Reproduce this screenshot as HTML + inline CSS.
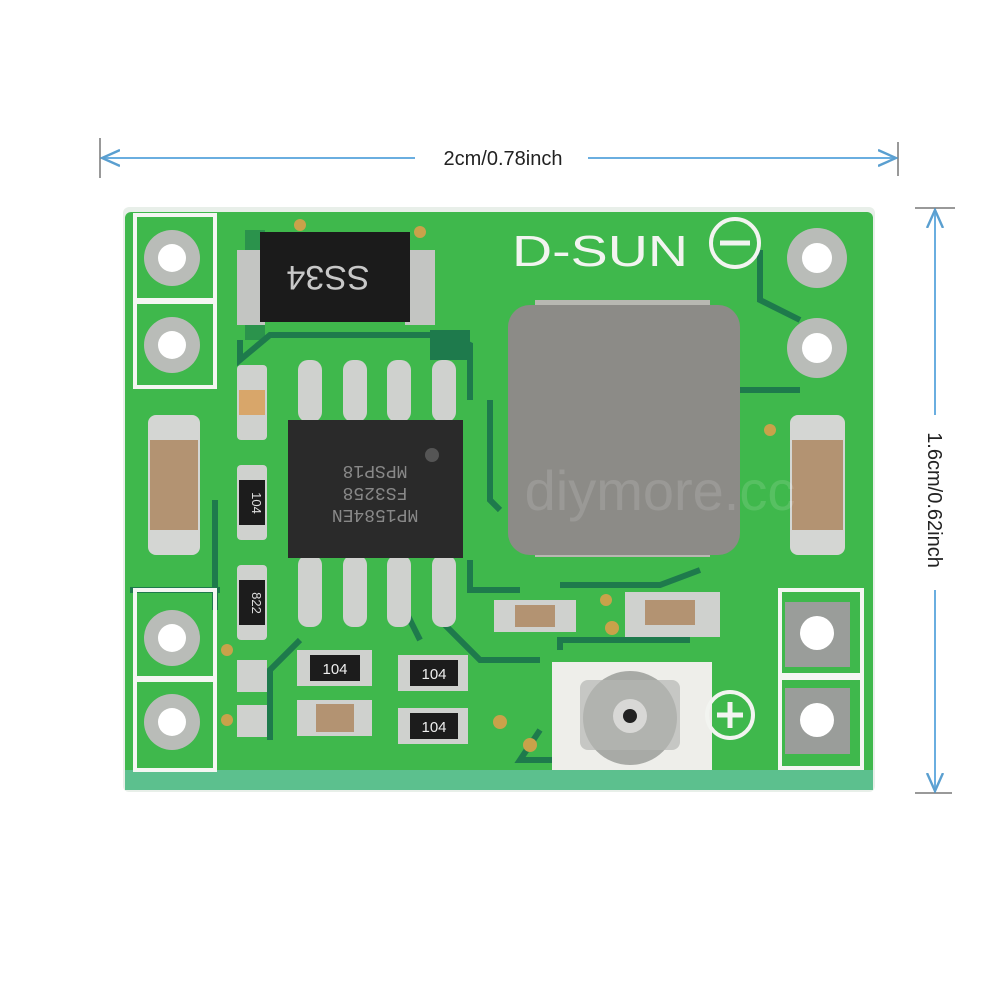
<!DOCTYPE html>
<html><head><meta charset="utf-8"><style>
html,body{margin:0;padding:0;background:#fff;}
svg{display:block;}
</style></head><body>
<svg width="1000" height="1000" viewBox="0 0 1000 1000" xmlns="http://www.w3.org/2000/svg">
<defs>
<marker id="ar" markerWidth="10" markerHeight="10" refX="9" refY="5" orient="auto"><path d="M0,1 L9,5 L0,9" fill="none" stroke="#5a9fd0" stroke-width="1.2"/></marker>
</defs>
<line x1="100" y1="138" x2="100" y2="178" stroke="#333" stroke-width="1"/>
<line x1="898" y1="142" x2="898" y2="176" stroke="#333" stroke-width="1"/>
<line x1="415" y1="158" x2="102" y2="158" stroke="#6aaee0" stroke-width="2" marker-end="url(#ar)"/>
<line x1="588" y1="158" x2="896" y2="158" stroke="#6aaee0" stroke-width="2" marker-end="url(#ar)"/>
<text x="503" y="165" font-family="Liberation Sans, sans-serif" font-size="20" text-anchor="middle" fill="#222">2cm/0.78inch</text>
<line x1="915" y1="208" x2="955" y2="208" stroke="#333" stroke-width="1"/>
<line x1="915" y1="793" x2="952" y2="793" stroke="#333" stroke-width="1"/>
<line x1="935" y1="415" x2="935" y2="210" stroke="#6aaee0" stroke-width="2" marker-end="url(#ar)"/>
<line x1="935" y1="590" x2="935" y2="791" stroke="#6aaee0" stroke-width="2" marker-end="url(#ar)"/>
<text x="0" y="0" transform="translate(928,500) rotate(90)" font-family="Liberation Sans, sans-serif" font-size="20" text-anchor="middle" fill="#222">1.6cm/0.62inch</text>

<rect x="123" y="207" width="752" height="585" rx="6" fill="#e8efe9"/>
<rect x="125" y="212" width="748" height="565" rx="6" fill="#3fb84c"/>
<rect x="125" y="770" width="748" height="20" fill="#5cc08e"/>
<g fill="none" stroke="#1e7a4c" stroke-width="6">
<path d="M240 340 L240 360 L270 335 L450 335 L470 345 L470 400"/>
<path d="M470 560 L470 590 L520 590"/>
<path d="M440 620 L480 660 L540 660"/>
<path d="M300 640 L270 670 L270 740"/>
<path d="M760 250 L760 300 L800 320"/>
<path d="M740 390 L800 390"/>
<path d="M560 585 L660 585 L700 570"/>
<path d="M560 650 L560 640 L690 640"/>
<path d="M490 400 L490 500 L500 510"/>
<path d="M400 600 L420 640"/>
<path d="M215 500 L215 610"/>
<path d="M130 590 L220 590"/>
<path d="M540 730 L520 760 L560 760"/>
</g>
<rect x="430" y="330" width="40" height="30" fill="#1e7a4c"/>
<rect x="245" y="230" width="20" height="110" fill="#1e7a4c" opacity="0.6"/>

<g fill="none" stroke="#f4f6f2" stroke-width="4">
<rect x="135" y="215" width="80" height="85"/>
<rect x="135" y="302" width="80" height="85"/>
<rect x="135" y="590" width="80" height="88"/>
<rect x="135" y="680" width="80" height="90"/>
<rect x="780" y="590" width="82" height="85"/>
<rect x="780" y="678" width="82" height="90"/>
</g>
<g>
<circle cx="172" cy="258" r="28" fill="#b9bcb8"/><circle cx="172" cy="258" r="14" fill="#fff"/>
<circle cx="172" cy="345" r="28" fill="#b9bcb8"/><circle cx="172" cy="345" r="14" fill="#fff"/>
<circle cx="172" cy="638" r="28" fill="#b9bcb8"/><circle cx="172" cy="638" r="14" fill="#fff"/>
<circle cx="172" cy="722" r="28" fill="#b9bcb8"/><circle cx="172" cy="722" r="14" fill="#fff"/>
<circle cx="817" cy="258" r="30" fill="#b9bcb8"/><circle cx="817" cy="258" r="15" fill="#fff"/>
<circle cx="817" cy="348" r="30" fill="#b9bcb8"/><circle cx="817" cy="348" r="15" fill="#fff"/>
<rect x="785" y="602" width="65" height="65" fill="#9a9d9a"/><circle cx="817" cy="633" r="17" fill="#fff"/>
<rect x="785" y="688" width="65" height="66" fill="#9a9d9a"/><circle cx="817" cy="720" r="17" fill="#fff"/>
</g>

<rect x="237" y="250" width="28" height="75" fill="#c3c5c2"/>
<rect x="405" y="250" width="30" height="75" fill="#c3c5c2"/>
<rect x="260" y="232" width="150" height="90" fill="#1b1b1b"/>
<text x="328" y="290" font-family="Liberation Sans, sans-serif" font-size="34" fill="#c8c8c8" text-anchor="middle" transform="rotate(180 328 278)">SS34</text>

<g fill="#cfd1ce">
<rect x="298" y="360" width="24" height="62" rx="10"/>
<rect x="343" y="360" width="24" height="62" rx="10"/>
<rect x="387" y="360" width="24" height="62" rx="10"/>
<rect x="432" y="360" width="24" height="62" rx="10"/>
<rect x="298" y="555" width="24" height="72" rx="10"/>
<rect x="343" y="555" width="24" height="72" rx="10"/>
<rect x="387" y="555" width="24" height="72" rx="10"/>
<rect x="432" y="555" width="24" height="72" rx="10"/>
</g>
<rect x="288" y="420" width="175" height="138" fill="#2a2a2a"/>
<circle cx="432" cy="455" r="7" fill="#555"/>
<text x="375" y="478" font-family="Liberation Mono, monospace" font-size="18" fill="#888" text-anchor="middle" transform="rotate(180 375 472)">MPSP18</text>
<text x="375" y="500" font-family="Liberation Mono, monospace" font-size="18" fill="#888" text-anchor="middle" transform="rotate(180 375 494)">FS3258</text>
<text x="375" y="522" font-family="Liberation Mono, monospace" font-size="18" fill="#888" text-anchor="middle" transform="rotate(180 375 516)">MP1584EN</text>

<rect x="535" y="300" width="175" height="22" fill="#b8b8b2"/>
<rect x="535" y="535" width="175" height="22" fill="#b8b8b2"/>
<rect x="508" y="305" width="232" height="250" rx="22" fill="#8c8b87"/>

<rect x="148" y="415" width="52" height="140" rx="8" fill="#d4d6d3"/>
<rect x="150" y="440" width="48" height="90" fill="#b39372"/>
<rect x="790" y="415" width="55" height="140" rx="8" fill="#d4d6d3"/>
<rect x="792" y="440" width="51" height="90" fill="#b39372"/>

<rect x="237" y="365" width="30" height="75" rx="4" fill="#cfd1ce"/>
<rect x="239" y="390" width="26" height="25" fill="#d8a66a"/>
<rect x="237" y="465" width="30" height="75" rx="4" fill="#cfd1ce"/>
<rect x="239" y="480" width="26" height="45" fill="#1c1c1c"/>
<text x="252" y="503" font-family="Liberation Sans, sans-serif" font-size="13" fill="#ddd" text-anchor="middle" transform="rotate(90 252 503)">104</text>
<rect x="237" y="565" width="30" height="75" rx="4" fill="#cfd1ce"/>
<rect x="239" y="580" width="26" height="45" fill="#1c1c1c"/>
<text x="252" y="603" font-family="Liberation Sans, sans-serif" font-size="13" fill="#ddd" text-anchor="middle" transform="rotate(90 252 603)">822</text>
<rect x="237" y="660" width="30" height="32" fill="#cfd1ce"/>
<rect x="237" y="705" width="30" height="32" fill="#cfd1ce"/>

<rect x="297" y="650" width="75" height="36" fill="#cfd1ce"/>
<rect x="310" y="655" width="50" height="26" fill="#1c1c1c"/>
<text x="335" y="674" font-family="Liberation Sans, sans-serif" font-size="15" fill="#eee" text-anchor="middle">104</text>
<rect x="297" y="700" width="75" height="36" fill="#cfd1ce"/>
<rect x="316" y="704" width="38" height="28" fill="#b39372"/>
<rect x="398" y="655" width="70" height="36" fill="#cfd1ce"/>
<rect x="410" y="660" width="48" height="26" fill="#1c1c1c"/>
<text x="434" y="679" font-family="Liberation Sans, sans-serif" font-size="15" fill="#eee" text-anchor="middle">104</text>
<rect x="398" y="708" width="70" height="36" fill="#cfd1ce"/>
<rect x="410" y="713" width="48" height="26" fill="#1c1c1c"/>
<text x="434" y="732" font-family="Liberation Sans, sans-serif" font-size="15" fill="#eee" text-anchor="middle">104</text>
<rect x="494" y="600" width="82" height="32" fill="#cfd1ce"/>
<rect x="515" y="605" width="40" height="22" fill="#b39372"/>
<rect x="625" y="592" width="95" height="45" fill="#cfd1ce"/>
<rect x="645" y="600" width="50" height="25" fill="#b39372"/>

<g fill="#c9a24a"><circle cx="612" cy="628" r="7"/><circle cx="606" cy="600" r="6"/><circle cx="500" cy="722" r="7"/><circle cx="530" cy="745" r="7"/><circle cx="227" cy="650" r="6"/><circle cx="227" cy="720" r="6"/><circle cx="770" cy="430" r="6"/><circle cx="420" cy="232" r="6"/><circle cx="300" cy="225" r="6"/></g>

<rect x="552" y="662" width="160" height="108" fill="#eeeeea"/>
<circle cx="630" cy="718" r="47" fill="#a8aaa6"/>
<rect x="580" y="680" width="100" height="70" rx="8" fill="#b5b7b3" opacity="0.7"/>
<circle cx="630" cy="716" r="17" fill="#d8d8d6"/>
<circle cx="630" cy="716" r="7" fill="#222"/>

<text x="600" y="266" font-family="Liberation Sans, sans-serif" font-size="44" fill="#f2f4f0" text-anchor="middle" textLength="176" lengthAdjust="spacingAndGlyphs">D-SUN</text>
<circle cx="735" cy="243" r="24" fill="none" stroke="#f2f4f0" stroke-width="4"/>
<line x1="720" y1="243" x2="750" y2="243" stroke="#f2f4f0" stroke-width="5"/>
<circle cx="730" cy="715" r="23" fill="none" stroke="#f2f4f0" stroke-width="4"/>
<line x1="717" y1="715" x2="743" y2="715" stroke="#f2f4f0" stroke-width="5"/>
<line x1="730" y1="702" x2="730" y2="728" stroke="#f2f4f0" stroke-width="5"/>

<text x="660" y="510" font-family="Liberation Sans, sans-serif" font-size="56" fill="#ffffff" opacity="0.12" text-anchor="middle">diymore.cc</text>
</svg>
</body></html>
